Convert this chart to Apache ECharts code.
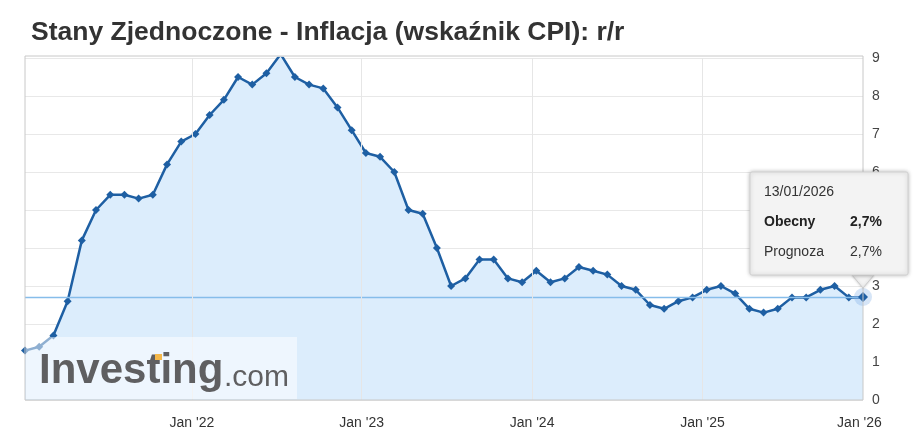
<!DOCTYPE html><html><head><meta charset="utf-8">
<script src="https://cdn.jsdelivr.net/npm/echarts@6/dist/echarts.min.js"></script>
<style>html,body{margin:0;background:#fff}#c{width:920px;height:447px}</style></head><body><div id="c"></div>
<script>
const dates=['2021-01','2021-02','2021-03','2021-04','2021-05','2021-06','2021-07','2021-08','2021-09','2021-10','2021-11','2021-12',
'2022-01','2022-02','2022-03','2022-04','2022-05','2022-06','2022-07','2022-08','2022-09','2022-10','2022-11','2022-12',
'2023-01','2023-02','2023-03','2023-04','2023-05','2023-06','2023-07','2023-08','2023-09','2023-10','2023-11','2023-12',
'2024-01','2024-02','2024-03','2024-04','2024-05','2024-06','2024-07','2024-08','2024-09','2024-10','2024-11','2024-12',
'2025-01','2025-02','2025-03','2025-04','2025-05','2025-06','2025-07','2025-08','2025-09','2025-10','2025-12','2026-01'];
const values=[1.3,1.4,1.7,2.6,4.2,5.0,5.4,5.4,5.3,5.4,6.2,6.8,
7.0,7.5,7.9,8.5,8.3,8.6,9.1,8.5,8.3,8.2,7.7,7.1,
6.5,6.4,6.0,5.0,4.9,4.0,3.0,3.2,3.7,3.7,3.2,3.1,
3.4,3.1,3.2,3.5,3.4,3.3,3.0,2.9,2.5,2.4,2.6,2.7,
2.9,3.0,2.8,2.4,2.3,2.4,2.7,2.7,2.9,3.0,2.7,2.7];
// tick label positions, in units of release index
const xTickPos=[11.75,23.7,35.7,47.7,58.75];
const xTickLabels=["Jan '22","Jan '23","Jan '24","Jan '25","Jan '26"];
const c=echarts.init(document.getElementById('c'));
c.setOption({
animation:false,
title:{text:'Stany Zjednoczone - Inflacja (wskaźnik CPI): r/r',left:26,top:14,textStyle:{fontFamily:'Liberation Sans',fontSize:26.5,fontWeight:'bold',color:'#333'}},
grid:{left:25,right:57,top:58,bottom:47},
xAxis:{type:'value',min:0,max:dates.length-1,
 axisLine:{show:false},axisTick:{show:false,customValues:xTickPos},
 splitLine:{show:false},
 axisLabel:{customValues:xTickPos,formatter:v=>xTickLabels[xTickPos.indexOf(v)]||'',color:'#333',fontFamily:'Liberation Sans',fontSize:14,margin:16}},
yAxis:{type:'value',position:'right',min:0,max:9,interval:1,
 axisLine:{show:false},axisTick:{show:false},
 splitLine:{lineStyle:{color:'#e8e8e8'}},
 axisLabel:{color:'#444',fontFamily:'Liberation Sans',fontSize:14,margin:9}},
series:[{type:'line',z:2,data:values.map((v,i)=>[i,v]),
 symbol:'diamond',symbolSize:8,lineStyle:{color:'#1e5fa3',width:2.5},itemStyle:{color:'#1e5fa3'},
 areaStyle:{color:'#dcedfc',opacity:1}},
 {type:'line',z:3,data:[],symbol:'none',
  markLine:{silent:true,symbol:'none',label:{show:false},lineStyle:{color:'#86bdea',type:'solid',width:1.3},data:[{yAxis:2.7}]}},
 {type:'line',z:1,data:[],symbol:'none',
  markLine:{silent:true,symbol:'none',label:{show:false},lineStyle:{color:'#e6e6e6',type:'solid',width:1},data:xTickPos.slice(0,4).map(t=>({xAxis:t}))}}],
graphic:[
 {type:'rect',shape:{x:25,y:56,width:838,height:344},style:{fill:'none',stroke:'#c8c8c8',lineWidth:1},z:100},
 {type:'rect',shape:{x:26,y:337,width:271,height:62},style:{fill:'rgba(255,255,255,0.5)'},z:100},
 {type:'text',left:39,top:350,style:{text:'Investing',font:'bold 42px Liberation Sans',fill:'#5f5f61'},z:101},
 {type:'text',left:224,top:363,style:{text:'.com',font:'30px Liberation Sans',fill:'#5f5f61'},z:101},
 {type:'rect',shape:{x:155,y:354,width:7,height:6},style:{fill:'#f5b84a'},z:102},
 {type:'circle',shape:{cx:863,cy:297,r:9},style:{fill:'rgba(120,170,230,0.3)'},z:99},
 {type:'polygon',shape:{points:[[858,297],[863,292],[868,297],[863,302]]},style:{fill:'#1e5fa3'},z:99},
 {type:'polygon',shape:{points:[[852,275],[874,275],[863,288]]},style:{fill:'#f3f3f3',stroke:'#ccc',shadowBlur:3,shadowColor:'rgba(0,0,0,0.2)'},z:103},
 {type:'rect',shape:{x:750,y:172,width:158,height:103,r:2},style:{fill:'#f3f3f3',stroke:'#d0d0d0',shadowBlur:4,shadowColor:'rgba(0,0,0,0.25)'},z:104},
 {type:'text',left:764,top:185,style:{text:'13/01/2026',font:'14px Liberation Sans',fill:'#333'},z:105},
 {type:'text',left:764,top:215,style:{text:'Obecny',font:'bold 14px Liberation Sans',fill:'#222'},z:105},
 {type:'text',left:850,top:215,style:{text:'2,7%',font:'bold 14px Liberation Sans',fill:'#222'},z:105},
 {type:'text',left:764,top:245,style:{text:'Prognoza',font:'14px Liberation Sans',fill:'#333'},z:105},
 {type:'text',left:850,top:245,style:{text:'2,7%',font:'14px Liberation Sans',fill:'#333'},z:105}
]});
</script></body></html>
